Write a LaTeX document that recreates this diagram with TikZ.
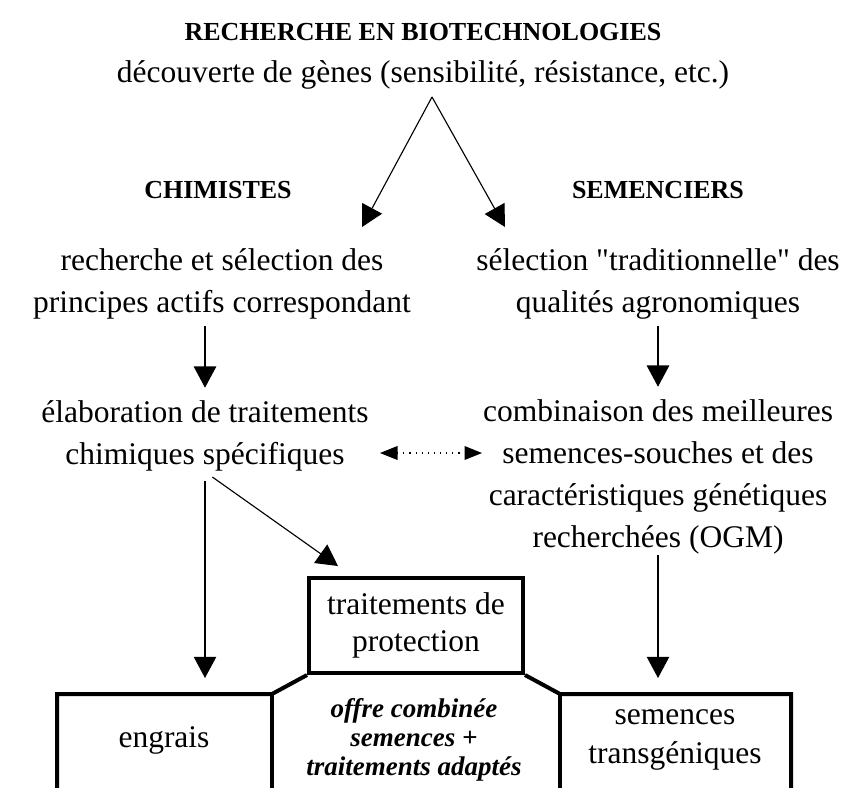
\documentclass[tikz,border=0pt]{standalone}
\usepackage{fontspec}
\setmainfont{Liberation Serif}
\usetikzlibrary{arrows.meta}

\tikzset{
  txt/.style={align=center, inner sep=0pt, font=\fontsize{12.6}{16.8}\selectfont},
  head/.style={inner sep=0pt, font=\fontsize{10.4}{12}\selectfont\bfseries},
  arr/.style={-{Triangle[length=8.5pt,width=9pt]}, line width=0.45pt},
  dotarr/.style={{Triangle[length=7pt,width=5.5pt]}-{Triangle[length=7pt,width=5.5pt]}, dotted, line width=0.45pt},
  boxline/.style={line width=1.6pt},
}

\begin{document}
\begin{tikzpicture}[x=0.4pt, y=-0.4pt]
  \useasboundingbox (0,0) rectangle (846,787);

  % Title
  \node[head] (titre) at (423,32) {RECHERCHE EN BIOTECHNOLOGIES};
  \node[txt] (genes) at (423,75) {découverte de gènes (sensibilité, résistance, etc.)};

  % Column heads
  \node[head] (chim) at (218,190) {CHIMISTES};
  \node[head] (sem) at (658,190) {SEMENCIERS};

  % Left column
  \node[txt] (rech) at (222,284) {recherche et sélection des\\principes actifs correspondant};
  \node[txt] (elab) at (205,436) {élaboration de traitements\\chimiques spécifiques};

  % Right column
  \node[txt] (sel) at (658,284) {sélection \textquotedbl traditionnelle\textquotedbl{} des\\qualités agronomiques};
  \node[txt] (comb) at (658,477) {combinaison des meilleures\\semences-souches et des\\caractéristiques génétiques\\recherchées (OGM)};

  % Protection box
  \node[txt, draw, boxline, minimum width=85.6pt, minimum height=38pt,
        font=\fontsize{12.6}{14.8}\selectfont] (prot) at (416,625.5) {traitements de\\protection};

  % Bottom boxes
  \node[txt] (engrais) at (164,740) {engrais};
  \node[txt, font=\fontsize{10.8}{11.6}\selectfont\bfseries\itshape] (offre) at (414,740)
       {offre combinée\\semences +\\traitements adaptés};
  \node[txt, font=\fontsize{12.6}{15.6}\selectfont] (transg) at (675,740) {semences\\transgéniques};

  \coordinate (cl) at (272,694);
  \coordinate (cr) at (560,694);
  \coordinate (bl) at (57,800);
  \coordinate (br) at (791,800);

  \draw[boxline] (bl) |- (cl) -- (prot.south west);
  \draw[boxline] (br) |- (cr) -- (prot.south east);
  \draw[boxline] (cl) -- (cl |- bl);
  \draw[boxline] (cr) -- (cr |- br);

  % Arrows
  \coordinate (apex) at (432,97);
  \coordinate (tipL) at (362,227);
  \coordinate (tipR) at (505,227);
  \coordinate (tipP) at (338,566);
  \coordinate (dl) at (380,453);
  \coordinate (dr) at (482,453);

  \draw[arr] (apex) -- (tipL);
  \draw[arr] (apex) -- (tipR);
  \draw[arr, shorten <=2.4pt, shorten >=5pt] (rech.south -| elab.north) -- (elab.north);
  \draw[arr, shorten <=2.4pt, shorten >=5pt] (sel.south -| comb.north) -- (comb.north);
  \draw[arr, shorten <=3.6pt, shorten >=6.4pt] (elab.south) -- (elab.south |- cl);
  \draw[arr, shorten <=3.6pt] (elab.south) -- (tipP);
  \draw[arr, shorten >=6.4pt] (comb.south) -- (comb.south |- cr);
  \draw[dotarr] (dl) -- (dr);
\end{tikzpicture}
\end{document}
